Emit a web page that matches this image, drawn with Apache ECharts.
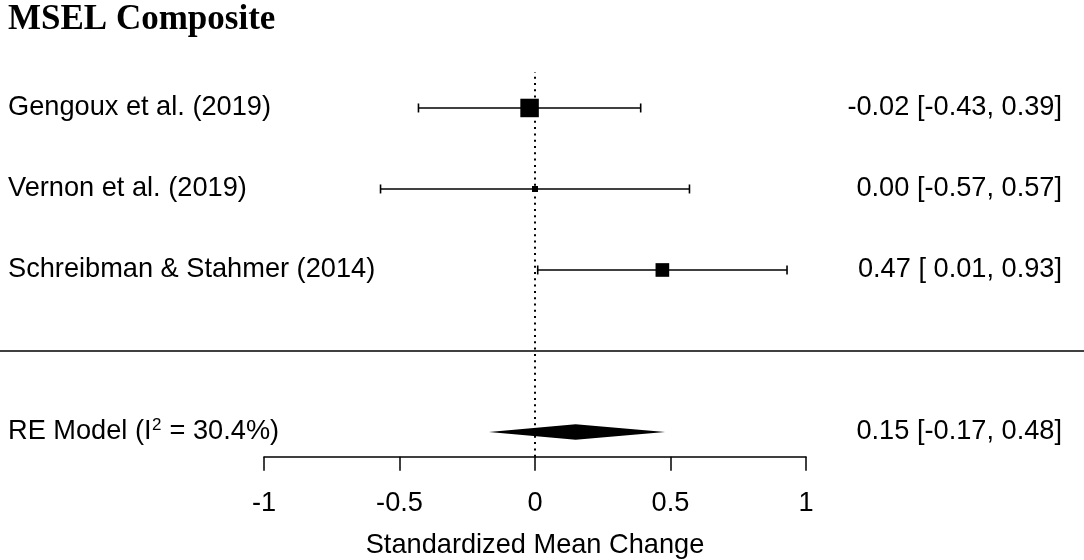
<!DOCTYPE html>
<html><head><meta charset="utf-8">
<script src="https://cdn.jsdelivr.net/npm/echarts@6/dist/echarts.min.js"></script>
<style>html,body{margin:0;padding:0;background:#fff}#c{width:1084px;height:560px}</style>
</head><body><div id="c"></div>
<script>
const chartTitle = 'MSEL Composite';
const studies = ['Gengoux et al. (2019)', 'Vernon et al. (2019)', 'Schreibman & Stahmer (2014)'];
const estimates = [-0.02, 0.00, 0.47];
const lowerCI = [-0.43, -0.57, 0.01];
const upperCI = [0.39, 0.57, 0.93];
const modelName = 'RE Model';
const modelI2 = 30.4;
const modelEstimate = 0.15;
const modelLower = -0.17;
const modelUpper = 0.48;
const xTicks = [-1, -0.5, 0, 0.5, 1];
const xTitle = 'Standardized Mean Change';

const FONT = '"Liberation Sans", Arial, sans-serif';
const FS = 27.2;
const k = studies.length;
const rows = studies.map((s, i) => k + 2 - i);
const modelRow = 1;
const sepRow = 2;

const fmt = v => (v < 0 ? '-' : '') + Math.abs(v).toFixed(2);
const allL = lowerCI.concat([modelLower]).map(fmt);
const allU = upperCI.concat([modelUpper]).map(fmt);
const allE = estimates.concat([modelEstimate]).map(fmt);
const pad = (arr) => { const w = Math.max(...arr.map(s => s.length)); return arr.map(s => ' '.repeat(w - s.length) + s); };
const pL = pad(allL), pU = pad(allU), pE = pad(allE);
const ciText = allE.map((e, i) => pE[i] + ' [' + pL[i] + ', ' + pU[i] + ']');

const wts = lowerCI.map((l, i) => 3.92 / (upperCI[i] - l));
const wMin = Math.min(...wts), wMax = Math.max(...wts);
const sizes = wts.map(w => 6 + (w - wMin) / (wMax - wMin) * 12.5);

const studyData = studies.map((s, i) => [estimates[i], rows[i], lowerCI[i], upperCI[i]]);

const modelPart1 = modelName + ' (I';
const modelSup = '2';
const modelPart2 = ' = ' + modelI2.toFixed(1) + '%)';
const mctx = document.createElement('canvas').getContext('2d');
mctx.font = FS + 'px ' + FONT;
const w1 = mctx.measureText(modelPart1).width;
const SUPFS = 17;
mctx.font = SUPFS + 'px ' + FONT;
const w2 = mctx.measureText(modelSup).width;

const chart = echarts.init(document.getElementById('c'));
const txt = (extra) => Object.assign({ fill: '#000', fontFamily: FONT, fontSize: FS }, extra);

chart.setOption({
  backgroundColor: '#fff',
  animation: false,
  title: {
    text: chartTitle, left: 3, top: -3,
    textStyle: { fontFamily: '"Liberation Serif", "Times New Roman", serif', fontWeight: 'bold', fontSize: 35, color: '#000' }
  },
  grid: { left: 264, right: 278, top: 72, bottom: 103.3, containLabel: false, outerBoundsMode: 'none' },
  xAxis: {
    type: 'value', min: xTicks[0], max: xTicks[xTicks.length - 1], interval: 0.5,
    splitLine: { show: false },
    axisLine: { show: true, onZero: false, lineStyle: { color: '#000', width: 1.5 } },
    axisTick: { show: true, length: 14, lineStyle: { color: '#000', width: 1.5 } },
    axisLabel: { color: '#000', fontFamily: FONT, fontSize: FS, margin: 33 },
    name: xTitle, nameLocation: 'middle', nameGap: 75,
    nameTextStyle: { color: '#000', fontFamily: FONT, fontSize: FS }
  },
  yAxis: { type: 'value', min: 0.695, max: 5.444, show: false },
  series: [
    {
      type: 'custom', clip: false, data: studyData,
      renderItem(params, api) {
        const i = params.dataIndex;
        const row = api.value(1);
        const pe = api.coord([api.value(0), row]);
        const pl = api.coord([api.value(2), row]);
        const pu = api.coord([api.value(3), row]);
        const y = pe[1];
        const s = sizes[i];
        const ls = { stroke: '#000', lineWidth: 1.6 };
        return { type: 'group', children: [
          { type: 'line', shape: { x1: pl[0], y1: y, x2: pu[0], y2: y }, style: ls },
          { type: 'line', shape: { x1: pl[0], y1: y - 4.5, x2: pl[0], y2: y + 4.5 }, style: ls },
          { type: 'line', shape: { x1: pu[0], y1: y - 4.5, x2: pu[0], y2: y + 4.5 }, style: ls },
          { type: 'rect', shape: { x: pe[0] - s / 2, y: y - s / 2, width: s, height: s }, style: { fill: '#000' } },
          { type: 'text', x: 8, y: y, style: txt({ text: studies[i], align: 'left', verticalAlign: 'middle' }) },
          { type: 'text', x: 1062, y: y, style: txt({ text: ciText[i], align: 'right', verticalAlign: 'middle' }) }
        ] };
      },
      markLine: {
        silent: true, symbol: 'none', label: { show: false },
        lineStyle: { color: '#000', width: 2, type: [2, 4.3] },
        data: [{ xAxis: 0 }]
      }
    },
    {
      type: 'custom', clip: false, data: [[modelEstimate, modelRow, modelLower, modelUpper]],
      renderItem(params, api) {
        const row = api.value(1);
        const pe = api.coord([api.value(0), row]);
        const pl = api.coord([api.value(2), row]);
        const pu = api.coord([api.value(3), row]);
        const y = pe[1];
        const h = 7.8;
        return { type: 'group', children: [
          { type: 'polygon', shape: { points: [[pl[0], y], [pe[0], y - h], [pu[0], y], [pe[0], y + h]] }, style: { fill: '#000' } },
          { type: 'text', x: 8, y: y, style: txt({ text: modelPart1, align: 'left', verticalAlign: 'middle' }) },
          { type: 'text', x: 8 + w1 + 0.5, y: y - 7, style: txt({ text: modelSup, fontSize: SUPFS, align: 'left', verticalAlign: 'middle' }) },
          { type: 'text', x: 8 + w1 + w2 + 1, y: y, style: txt({ text: modelPart2, align: 'left', verticalAlign: 'middle' }) },
          { type: 'text', x: 1062, y: y, style: txt({ text: ciText[k], align: 'right', verticalAlign: 'middle' }) }
        ] };
      }
    },
    {
      type: 'custom', clip: false, data: [[0, sepRow]],
      renderItem(params, api) {
        const y = api.coord([0, api.value(1)])[1];
        return { type: 'line', shape: { x1: 0, y1: y, x2: api.getWidth(), y2: y }, style: { stroke: '#000', lineWidth: 1.6 } };
      }
    }
  ]
});
</script></body></html>
